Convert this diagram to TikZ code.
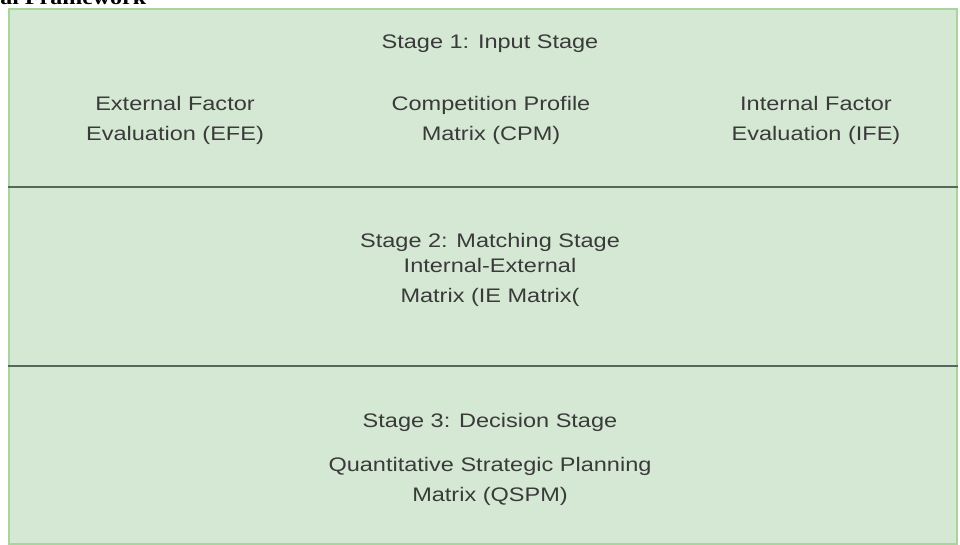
\documentclass[tikz,border=0pt]{standalone}
\usepackage{fontspec}
\setmainfont{Liberation Sans}[FakeStretch=1.2]
\newfontfamily\headfont{Liberation Serif}[FakeStretch=1.2]
\definecolor{stagefill}{HTML}{D5E8D4}
\definecolor{stageedge}{HTML}{A8D59E}
\definecolor{rulegray}{HTML}{55695A}
\definecolor{textgray}{HTML}{3A3A3A}
\begin{document}
\begin{tikzpicture}[
    x=0.75pt, y=-0.75pt,
    stage/.style={
        inner sep=0pt, align=center, text=textgray,
        font=\fontsize{14.7}{22.5}\selectfont
    },
    divider/.style={draw=rulegray, line width=1.8pt}
]
\useasboundingbox (0,0) rectangle (960,545);

% cut-off heading above the frame
\begin{scope}
    \clip (0,0) rectangle (960,7);
    \node[anchor=base west, inner sep=0pt, font=\headfont\bfseries\fontsize{15}{18}\selectfont] (head) at (0,5) {al Framework};
\end{scope}

\fill[stagefill] (8,8) rectangle (958,545);
\draw[stageedge, line width=1.5pt] (9,9) rectangle (957,544);

\draw[divider] (8,187) -- (958,187);
\draw[divider] (8,366) -- (958,366);

\node[stage] (input)    at (490, 44)  {Stage 1: Input Stage};
\node[stage] (efe)      at (175, 120) {External Factor\\Evaluation (EFE)};
\node[stage] (cpm)      at (491, 120) {Competition Profile\\Matrix (CPM)};
\node[stage] (ife)      at (816, 120) {Internal Factor\\Evaluation (IFE)};

\node[stage] (matching) at (490, 242) {Stage 2: Matching Stage};
\node[stage] (ie)       at (490, 282) {Internal-External\\Matrix (IE Matrix(};

\node[stage] (decision) at (490, 422) {Stage 3: Decision Stage};
\node[stage] (qspm)     at (490, 481) {Quantitative Strategic Planning\\Matrix (QSPM)};

\end{tikzpicture}
\end{document}
